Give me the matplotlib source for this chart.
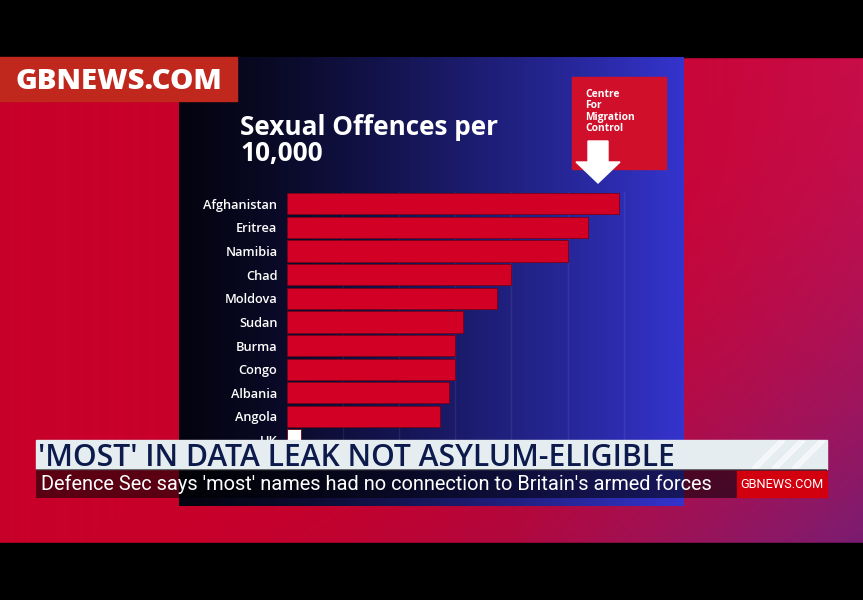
import numpy as np
import matplotlib
matplotlib.use('Agg')
import matplotlib.pyplot as plt
from matplotlib.patches import Rectangle, Polygon

# Data (units = one gridline step)
countries = ['Afghanistan', 'Eritrea', 'Namibia', 'Chad', 'Moldova', 'Sudan',
             'Burma', 'Congo', 'Albania', 'Angola', 'UK']
values = [5.92, 5.36, 5.00, 3.99, 3.74, 3.14, 2.99, 2.99, 2.89, 2.74, 0.25]
bar_colors = ['#d20024'] * 10 + ['#ffffff']

title = 'Sexual Offences per\n10,000'
source_lines = ['Centre', 'For', 'Migration', 'Control']
headline = "'MOST' IN DATA LEAK NOT ASYLUM-ELIGIBLE"
subline = "Defence Sec says 'most' names had no connection to Britain's armed forces"

W, H = 863, 600
fig = plt.figure(figsize=(W / 100, H / 100), dpi=100)
fig.patch.set_facecolor('black')
renderer = fig.canvas.get_renderer()

# Background axes in pixel coordinates
bg = fig.add_axes([0, 0, 1, 1])
bg.set_xlim(0, W)
bg.set_ylim(H, 0)
bg.axis('off')


def fit_text(ax, x, y, s, width, **kw):
    # draw text and rescale its size so it spans the given pixel width
    txt = ax.text(x, y, s, **kw)
    w = txt.get_window_extent(renderer).width
    txt.set_fontsize(txt.get_fontsize() * width / w)
    return txt


# red -> purple studio background
xx, yy = np.meshgrid(np.linspace(0, 1, W), np.linspace(0, 1, H))
s = np.clip((xx + yy - 1.0) / 0.9, 0, 1) ** 2
red = np.array([200, 0, 42]) / 255
purple = np.array([122, 28, 112]) / 255
img = red[None, None, :] * (1 - s[..., None]) + purple[None, None, :] * s[..., None]
img[..., 2] += 0.12 * np.clip((xx - 0.6) / 0.4, 0, 1) * (1 - s)
img[..., 1] += 0.05 * np.clip((xx - 0.6) / 0.4, 0, 1) * (1 - s)
img = np.clip(img, 0, 1)
bg.imshow(img, extent=(0, W, H, 0), aspect='auto', zorder=0)

# letterbox bars
bg.add_patch(Rectangle((0, 0), W, 57, color='black', zorder=1))
bg.add_patch(Rectangle((0, 543), W, 57, color='black', zorder=1))

# chart panel: black -> blue
t = np.linspace(0, 1, 400) ** 1.25
dark = np.array([4, 4, 16]) / 255
blue = np.array([52, 52, 206]) / 255
panel = (dark[None, :] * (1 - t[:, None]) + blue[None, :] * t[:, None])[None, :, :]
bg.imshow(panel, extent=(179, 683, 506, 57), aspect='auto', zorder=2)

# title (two lines, one text)
fit_text(bg, 240, 114, title, 259, color='white', fontsize=18, fontweight='bold',
         family='Open Sans', va='top', ha='left', linespacing=0.95, zorder=3)

# Centre for Migration Control box + arrow
bg.add_patch(Rectangle((572, 77), 94, 92, color='#d0102a', zorder=3))
bg.text(585, 89, '\n'.join(source_lines), color='white', fontsize=7.4, fontweight='bold',
        family='Open Sans', va='top', ha='left', linespacing=1.05, zorder=4)
bg.add_patch(Polygon([(588, 141), (608, 141), (608, 162), (620, 162), (598, 183),
                      (576, 162), (588, 162)], closed=True, color='white', zorder=4))

# bar chart axes, placed over the panel
px_unit = 56.2
x0, y_top, y_bot = 286.5, 192.0, 451.9
ax = fig.add_axes([x0 / W, (H - y_bot) / H, 340 / W, (y_bot - y_top) / H])
ax.patch.set_visible(False)
ax.set_xlim(0, 340 / px_unit)
ax.set_ylim(len(countries) - 0.5, -0.5)
ypos = np.arange(len(countries))
ax.barh(ypos, values, height=0.9, color=bar_colors, edgecolor='#7a0018',
        linewidth=0.6, zorder=3)
for g in range(1, 7):
    ax.axvline(g, color='white', alpha=0.07, linewidth=1, zorder=1)
ax.set_yticks(ypos)
ax.set_yticklabels(countries, color='white', fontsize=9.2, fontweight='semibold',
                   family='Open Sans')
ax.tick_params(axis='y', length=0, pad=6.5)
ax.set_xticks([])
for sp in ax.spines.values():
    sp.set_visible(False)

# overlay axes for the broadcast graphics
ov = fig.add_axes([0, 0, 1, 1])
ov.set_xlim(0, W)
ov.set_ylim(H, 0)
ov.axis('off')
ov.patch.set_visible(False)

# GB News logo
ov.add_patch(Rectangle((0, 57), 237, 44, color='#c0281e'))
fit_text(ov, 15, 89, 'GBNEWS.COM', 207, color='white', fontsize=19, fontweight='heavy',
         family='Open Sans', ha='left', va='baseline')

# headline strip
ov.add_patch(Rectangle((36, 440), 791, 29, color='#e6edf0'))
for k in range(3):
    xs = 752 + k * 20
    ov.add_patch(Polygon([(xs, 468), (xs + 6, 468), (xs + 33, 441), (xs + 27, 441)],
                         closed=True, color='white', alpha=0.55))
fit_text(ov, 38, 465.5, headline, 637, color='#0c1a4c', fontsize=18, fontweight='semibold',
         family='Open Sans', ha='left', va='baseline')

# sub strip
ov.add_patch(Rectangle((36, 469), 791, 29, color='black', alpha=0.55, linewidth=0))
fit_text(ov, 41, 490.5, subline, 679, color='white', fontsize=14, family='Roboto',
         ha='left', va='baseline')
ov.add_patch(Rectangle((737, 471), 90, 26, color='#d2000e'))
fit_text(ov, 782, 484.5, 'GBNEWS.COM', 83, color='white', fontsize=9, family='Roboto',
         ha='center', va='center')

fig.savefig('out.png', dpi=100, facecolor=fig.get_facecolor())
